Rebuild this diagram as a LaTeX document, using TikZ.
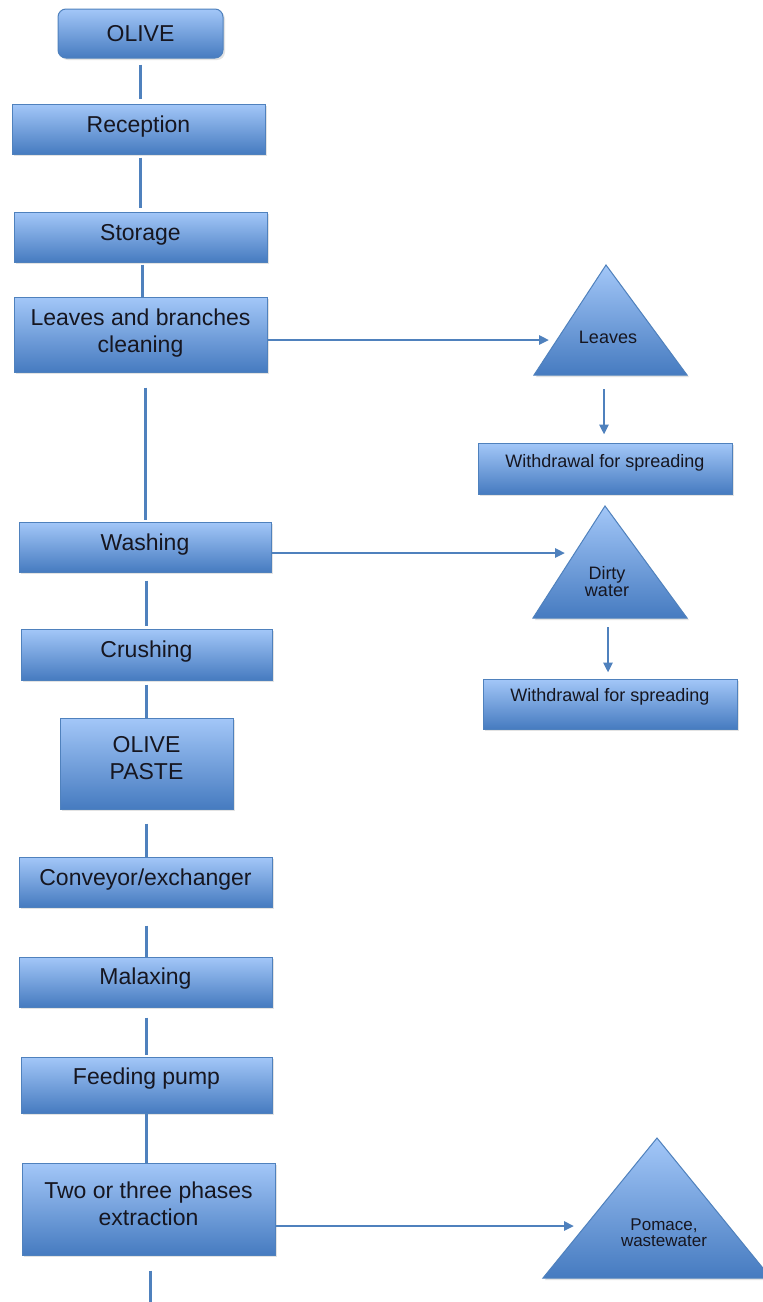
\documentclass[tikz,border=0pt]{standalone}
\usepackage{fontspec}
\setmainfont{Liberation Sans}
\usetikzlibrary{arrows.meta,shadows,calc}
\definecolor{btop}{RGB}{163,199,248}
\definecolor{bbot}{RGB}{70,123,192}
\definecolor{bline}{RGB}{79,129,189}
\definecolor{tcol}{RGB}{22,22,32}
\tikzset{
  procbox/.style={draw=bline, line width=1pt, top color=btop, bottom color=bbot,
    drop shadow={shadow xshift=2pt, shadow yshift=-2pt, opacity=0.22}, inner sep=0pt},
  maintext/.style={font=\fontsize{23}{27}\selectfont, text=tcol, align=center, inner sep=0pt},
  sidetext/.style={font=\fontsize{18}{17}\selectfont, text=tcol, align=center, inner sep=0pt},
  link/.style={draw=bline, line width=3pt},
  flow/.style={draw=bline, line width=2.6pt, -{Triangle[length=10pt,width=9pt]}},
  tri/.style={draw=bline, line width=1pt, top color=btop, bottom color=bbot,
    drop shadow={shadow xshift=2pt, shadow yshift=-2pt, opacity=0.22}},
}
\begin{document}
\begin{tikzpicture}[x=1pt,y=-1pt]
\useasboundingbox[fill=white] (0,0) rectangle (763,1302);

% main column boxes
\node[procbox, rounded corners=8pt, minimum width=165pt, minimum height=49pt] (olive) at (140.5,33.5) {};
\node[maintext] (olivet) at (140.5,34) {OLIVE};
\node[procbox, minimum width=253pt, minimum height=50pt] (rec) at (138.5,129) {};
\node[maintext] (rect) at (138.5,127) {Reception};
\node[procbox, minimum width=253pt, minimum height=50pt] (sto) at (140.5,237) {};
\node[maintext] (stot) at (140.5,235) {Storage};
\node[procbox, minimum width=253pt, minimum height=75pt] (lb) at (140.5,334.5) {};
\node[maintext] (lbt) at (140.5,333) {Leaves and branches\\cleaning};
\node[procbox, minimum width=252pt, minimum height=50pt] (wash) at (145,547) {};
\node[maintext] (washt) at (145,545) {Washing};
\node[procbox, minimum width=251pt, minimum height=51pt] (cru) at (146.5,654.5) {};
\node[maintext] (crut) at (146.5,652) {Crushing};
\node[procbox, minimum width=173pt, minimum height=91pt] (paste) at (146.5,763.5) {};
\node[maintext] (pastet) at (146.5,758) {OLIVE\\PASTE};
\node[procbox, minimum width=253pt, minimum height=50pt] (conv) at (145.5,882) {};
\node[maintext] (convt) at (145.5,880) {Conveyor/exchanger};
\node[procbox, minimum width=253pt, minimum height=50pt] (mal) at (145.5,982) {};
\node[maintext] (malt) at (145.5,979) {Malaxing};
\node[procbox, minimum width=251pt, minimum height=56pt] (feed) at (146.5,1085) {};
\node[maintext] (feedt) at (146.5,1079) {Feeding pump};
\node[procbox, minimum width=253pt, minimum height=92pt] (two) at (148.5,1209) {};
\node[maintext] (twot) at (148.5,1204) {Two or three phases\\extraction};

% side boxes
\node[procbox, minimum width=254pt, minimum height=51pt] (wd1) at (605,468.5) {};
\node[sidetext] (wd1t) at (605,463) {Withdrawal for spreading};
\node[procbox, minimum width=254pt, minimum height=50pt] (wd2) at (610,704) {};
\node[sidetext] (wd2t) at (610,697) {Withdrawal for spreading};

% triangles
\draw[tri] (606,265) -- (687,375) -- (534,375) -- cycle;
\node[sidetext] (leaves) at (608,337) {Leaves};
\draw[tri] (605,506) -- (687,618) -- (533,618) -- cycle;
\node[sidetext] (dirty) at (607,582) {Dirty\\water};
\draw[tri] (657,1138) -- (771,1278) -- (543,1278) -- cycle;
\node[sidetext, font=\fontsize{17}{16}\selectfont] (pomace) at (664,1233) {Pomace,\\wastewater};

% connectors in the main column
\draw[link, shorten <=6pt, shorten >=5pt] (olive.south) -- (olive.south |- rec.north);
\draw[link, shorten <=3pt, shorten >=4pt] (sto.north |- rec.south) -- (sto.north);
\draw[link, shorten <=2pt] ([xshift=2pt]sto.south) -- ([xshift=2pt]sto.south |- lb.north);
\draw[link, shorten <=15pt, shorten >=2pt] (wash.north |- lb.south) -- (wash.north);
\draw[link, shorten <=8pt, shorten >=3pt] (cru.north |- wash.south) -- (cru.north);
\draw[link, shorten <=4pt] (cru.south) -- (cru.south |- paste.north);
\draw[link, shorten <=14pt] (paste.south) -- (paste.south |- conv.north);
\draw[link, shorten <=18pt] (paste.south |- conv.south) -- (paste.south |- mal.north);
\draw[link, shorten <=10pt, shorten >=2pt] (feed.north |- mal.south) -- (feed.north);
\draw[link] (feed.south) -- (feed.south |- two.north);
\coordinate (bottomend) at (150,1302);
\draw[link, shorten <=15pt] (two.south -| bottomend) -- (bottomend);

% arrows to the side
\coordinate (leavesin) at (549,340);
\draw[flow] ([yshift=-5.5pt]lb.east) -- (leavesin);
\coordinate (dirtyin) at (565,553);
\draw[flow] ([yshift=-6pt]wash.east) -- (dirtyin);
\coordinate (pomin) at (574,1226);
\draw[flow] ([yshift=-17pt]two.east) -- (pomin);
\coordinate (leavesbase) at (604,375);
\draw[flow, shorten <=14pt, shorten >=8pt] (leavesbase) -- (leavesbase |- wd1.north);
\coordinate (dirtybase) at (608,618);
\draw[flow, shorten <=9pt, shorten >=6pt] (dirtybase) -- (dirtybase |- wd2.north);
\end{tikzpicture}
\end{document}
